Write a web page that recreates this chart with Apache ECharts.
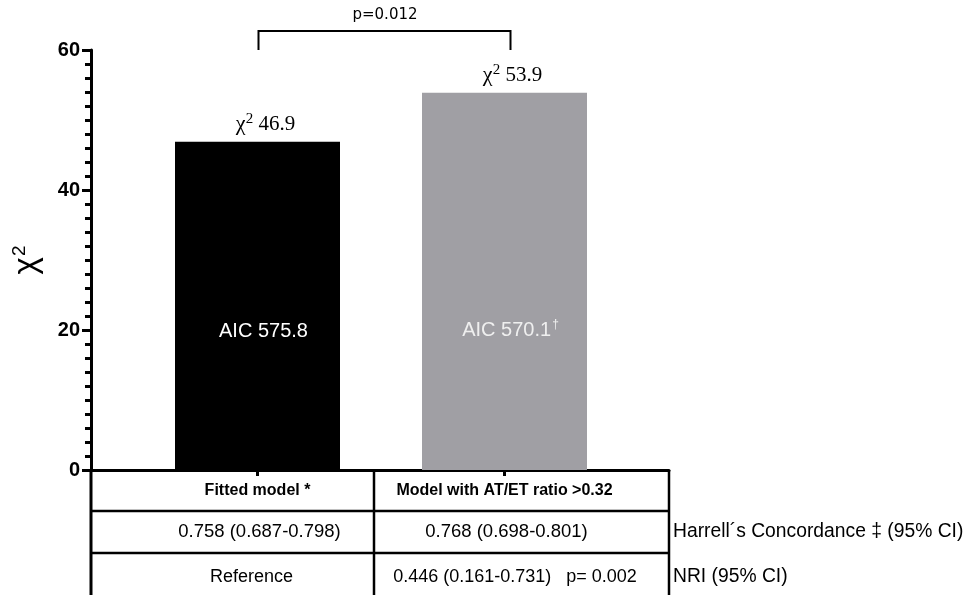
<!DOCTYPE html>
<html>
<head>
<meta charset="utf-8">
<script src="https://cdn.jsdelivr.net/npm/echarts@6/dist/echarts.min.js"></script>
<style>
html,body{margin:0;padding:0;background:#fff;}
#c{width:972px;height:595px;}
</style>
</head>
<body>
<div id="c"></div>
<script>
const categories = ['Fitted model *', 'Model with AT/ET ratio >0.32'];
const chiSquare = [46.9, 53.9];
const aicMain = ['AIC 575.8', 'AIC 570.1'];
const aicSup = ['', '†'];
const barColors = ['#000000', '#a09fa4'];
const aicColors = ['#ffffff', '#efefef'];
const harrell = ['0.758 (0.687-0.798)', '0.768 (0.698-0.801)'];
const nri = ['Reference', '0.446 (0.161-0.731)   p= 0.002'];
const rowLabels = ['Harrell\u00b4s Concordance \u2021 (95% CI)', 'NRI (95% CI)'];
const pValue = 'p=0.012';
const yMin = 0, yMax = 60, yInterval = 20;

const chart = echarts.init(document.getElementById('c'), null, {renderer: 'canvas'});

const sans = 'Liberation Sans, Arial, sans-serif';
const serif = 'Liberation Serif, Times New Roman, serif';

const option = {
  animation: false,
  backgroundColor: '#ffffff',
  grid: [
    {left: 134, right: 344, top: 50, bottom: 125},
    {left: 91, right: 303, top: 50, bottom: 125}
  ],
  xAxis: [
    {
      type: 'category', gridIndex: 0, data: categories,
      axisLine: {show: true, lineStyle: {color: '#000', width: 3}},
      axisTick: {show: true, alignWithLabel: true, inside: false, length: 6, lineStyle: {color: '#000', width: 3}},
      axisLabel: {show: false}
    },
    {
      type: 'value', gridIndex: 1, min: 0, max: 1,
      axisLine: {show: true, onZero: false, lineStyle: {color: '#000', width: 3}},
      axisTick: {show: false}, axisLabel: {show: false}, splitLine: {show: false}
    }
  ],
  yAxis: [
    {
      type: 'value', gridIndex: 0, min: yMin, max: yMax, interval: yInterval,
      show: false, splitLine: {show: false}
    },
    {
      type: 'value', gridIndex: 1, min: yMin, max: yMax, interval: yInterval,
      axisLine: {show: true, onZero: false, lineStyle: {color: '#000', width: 3}},
      axisTick: {show: true, length: 9, lineStyle: {color: '#000', width: 3}},
      minorTick: {show: true, splitNumber: 10, length: 6, lineStyle: {color: '#000', width: 3}},
      splitLine: {show: false},
      axisLabel: {color: '#000', fontFamily: sans, fontWeight: 'bold', fontSize: 20, margin: 11},
      name: '{c|\u03c7}{s|2}',
      nameLocation: 'middle',
      nameRotate: 90,
      nameGap: 48,
      nameTextStyle: {
        rich: {
          c: {fontFamily: sans, fontSize: 33, color: '#000'},
          s: {fontFamily: sans, fontSize: 19, color: '#000', padding: [0, 0, 14, 1]}
        }
      }
    }
  ],
  series: [
    {
      type: 'bar', xAxisIndex: 0, yAxisIndex: 0,
      barWidth: 165, barGap: '-100%',
      data: chiSquare.map((v, i) => ({
        value: v,
        itemStyle: {color: barColors[i]},
        label: {
          show: true, position: 'insideBottom', distance: 129, offset: [6, 0],
          formatter: '{a|' + aicMain[i] + '}' + (aicSup[i] ? '{s|' + aicSup[i] + '}' : ''),
          rich: {
            a: {fontFamily: sans, fontSize: 20, color: aicColors[i]},
            s: {fontFamily: sans, fontSize: 12, color: aicColors[i], padding: [0, 0, 10, 1]}
          }
        }
      }))
    },
    {
      type: 'bar', xAxisIndex: 0, yAxisIndex: 0,
      barWidth: 165, barGap: '-100%',
      itemStyle: {color: 'rgba(0,0,0,0)'},
      silent: true,
      data: chiSquare.map(v => ({
        value: v,
        label: {
          show: true, position: 'top', distance: 5, offset: [8, 0],
          formatter: '{c|\u03c7}{s|2}{v| ' + v.toFixed(1) + '}',
          rich: {
            c: {fontFamily: serif, fontSize: 22, color: '#000'},
            s: {fontFamily: serif, fontSize: 15, color: '#000', padding: [0, 0, 10, 0]},
            v: {fontFamily: serif, fontSize: 21, color: '#000'}
          }
        }
      }))
    }
  ]
};
chart.setOption(option);

// Table & annotations, positioned from the axes
const y0 = chart.convertToPixel({yAxisIndex: 1}, 0);
const xLeft = chart.convertToPixel({xAxisIndex: 1}, 0);
const xRight = chart.convertToPixel({xAxisIndex: 1}, 1);
const cx = categories.map(c => chart.convertToPixel({xAxisIndex: 0}, c));
const xMid = 374;
const row1 = 511, row2 = 553, bottomY = 600;
const tl = {stroke: '#000', lineWidth: 2.5};

const g = [];
g.push({type: 'line', shape: {x1: xLeft, y1: y0, x2: xLeft, y2: bottomY}, style: {stroke: '#000', lineWidth: 3}});
g.push({type: 'line', shape: {x1: xMid, y1: y0, x2: xMid, y2: bottomY}, style: tl});
g.push({type: 'line', shape: {x1: xRight, y1: y0, x2: xRight, y2: bottomY}, style: tl});
g.push({type: 'line', shape: {x1: xLeft, y1: row1, x2: xRight, y2: row1}, style: tl});
g.push({type: 'line', shape: {x1: xLeft, y1: row2, x2: xRight, y2: row2}, style: tl});

const headerY = (y0 + row1) / 2;
const r1Y = (row1 + row2) / 2;
const r2Y = 577;
categories.forEach((c, i) => {
  g.push({type: 'text', x: cx[i], y: headerY, style: {text: c, font: 'bold 16px ' + sans, fill: '#000', align: 'center', verticalAlign: 'middle'}});
  g.push({type: 'text', x: cx[i] + 2, y: r1Y, style: {text: harrell[i], font: '18.5px ' + sans, fill: '#000', align: 'center', verticalAlign: 'middle'}});
});
g.push({type: 'text', x: cx[0] - 6, y: r2Y, style: {text: nri[0], font: '18px ' + sans, fill: '#000', align: 'center', verticalAlign: 'middle'}});
g.push({type: 'text', x: 515, y: r2Y, style: {text: nri[1], font: '18px ' + sans, fill: '#000', align: 'center', verticalAlign: 'middle'}});
g.push({type: 'text', x: xRight + 4, y: r1Y, style: {text: rowLabels[0], font: '19.3px ' + sans, fill: '#000', align: 'left', verticalAlign: 'middle'}});
g.push({type: 'text', x: xRight + 4, y: r2Y, style: {text: rowLabels[1], font: '19.3px ' + sans, fill: '#000', align: 'left', verticalAlign: 'middle'}});

// significance bracket
const bTop = 31, bBot = 50;
g.push({type: 'polyline', shape: {points: [[cx[0] + 1, bBot], [cx[0] + 1, bTop], [cx[1] + 6, bTop], [cx[1] + 6, bBot]]}, style: {stroke: '#000', lineWidth: 2, fill: null}});
g.push({type: 'text', x: (cx[0] + cx[1]) / 2 + 4, y: 15, style: {text: pValue, font: '15px DejaVu Sans, sans-serif', fill: '#000', align: 'center', verticalAlign: 'middle'}});

chart.setOption({graphic: {elements: g}});
</script>
</body>
</html>
